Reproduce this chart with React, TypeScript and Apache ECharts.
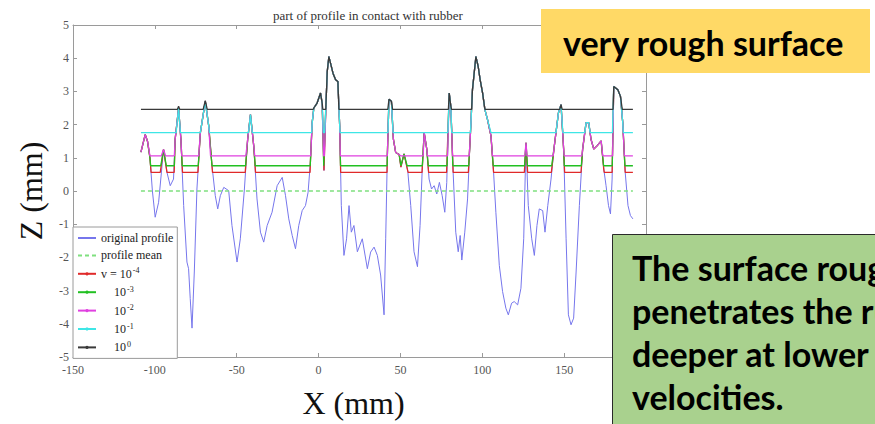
import React, { useEffect, useRef } from 'react';
import * as echarts from 'echarts';

type P = [number, number];

const titleText = 'part of profile in contact with rubber';
const xLabelText = 'X (mm)';
const yLabelText = 'Z (mm)';
const seriesNames = ['original profile', 'profile mean', 'v = 10^-4', '10^-3', '10^-2', '10^-1', '10^0'];
const seriesColors = ['#7676ec', '#7fe07f', '#e02a2a', '#22c022', '#e040e0', '#3ee6e6', '#3a3a3a'];
const yellowNote = 'very rough surface';
const greenNote = ['The surface roughness', 'penetrates the rubber', 'deeper at lower', 'velocities.'];

const profile: P[] = [
  [-108.5, 1.17], [-105.9, 1.7], [-104.5, 1.5], [-103, 1.0], [-101.5, 0.0], [-99.8, -0.79], [-97.7, -0.34],
  [-94.7, 1.25], [-92.6, 0.56], [-90.6, 0.16], [-88.6, 0.36], [-87.6, 1.56], [-85.5, 2.5], [-84.1, 1.56],
  [-82.4, -0.44], [-80.4, -2.14], [-79.4, -2.34], [-78.4, -3.24], [-77.3, -4.13], [-75.9, -2.44], [-74.3, 0.06],
  [-72.2, 1.76], [-69.2, 2.7], [-67.1, 1.96], [-65.1, 0.76], [-63.1, -0.14], [-61.6, -0.54], [-60, -0.14],
  [-57.9, 0.11], [-54.9, 0.01], [-52.9, -1.04], [-49.8, -2.14], [-47.8, -1.44], [-45.3, 0.06], [-43.3, 1.56],
  [-41.6, 2.3], [-39.6, 1.36], [-37.6, -0.24], [-35.5, -1.24], [-33.5, -1.54], [-31.4, -1.04], [-28.4, -0.64],
  [-25.3, 0.16], [-22.2, 0.41], [-20.2, -0.14], [-18.2, -0.84], [-16.1, -1.34], [-14.1, -1.74], [-12.1, -1.04],
  [-10, -0.59], [-8, -0.44], [-6.4, -0.04], [-5, 0.86], [-3.9, 2.06], [-2.9, 2.5], [-0.9, 2.65], [1.2, 2.95],
  [2.2, 2.65], [3.3, 0.62], [4.5, 2.6], [5.3, 3.6], [6.3, 4.05], [7.3, 3.85], [8.8, 3.55], [10.4, 3.35],
  [11.8, 3.3], [12.9, 1.96], [13.9, -0.44], [15.5, -1.94], [17.1, -1.44], [18.6, -0.44], [20, -1.24],
  [21.6, -1.04], [23.7, -1.83], [26.7, -1.44], [29.8, -2.34], [31.8, -1.84], [33.9, -1.69], [35.9, -1.94],
  [37.9, -2.53], [40, -3.73], [41, -1.44], [42, 1.06], [43, 2.76], [44.5, 2.7], [45.7, 1.56], [47.1, 1.16],
  [49.2, 1.1], [50.3, 0.72], [52.2, 1.12], [54.5, 0.6], [56.3, -0.44], [58.3, -1.83], [60.4, -2.28], [62, -1.04],
  [63.4, 0.76], [64.5, 1.76], [66.1, 1.26], [67.5, 0.36], [69, 0.06], [70.6, 0.16], [72.2, -0.09], [73.8, 0.26],
  [75.5, -0.14], [77.1, -0.64], [78.3, 0.26], [79.8, 2.95], [80.8, 2.55], [82.2, 0.56], [83.8, -1.24],
  [85.3, -1.83], [86.5, -1.34], [87.5, -2.08], [89.3, -1.24], [91, -0.24], [92.6, 1.56], [94, 3.05], [96.1, 4.05],
  [97.5, 3.75], [98.7, 3.35], [100.2, 2.95], [101.6, 2.45], [103.2, 2.15], [105.3, 1.66], [106.9, 0.56],
  [108.3, -0.64], [110.4, -2.24], [112.4, -3.03], [114.4, -3.53], [115.9, -3.73], [117.9, -3.38], [119.5, -3.33],
  [121.6, -3.43], [123.6, -2.93], [125.3, -1.44], [126.7, 1.45], [128.1, -0.44], [130.2, -1.44], [131.8, -1.94],
  [133.4, -1.04], [134.8, -0.54], [136.9, -0.59], [138.3, -1.24], [140, -0.44], [142, 0.36], [144, 1.36],
  [146.5, 2.35], [148.1, 2.6], [149.7, 1.26], [151.2, -1.44], [152.6, -3.73], [154.2, -4.03], [155.8, -3.83],
  [157.3, -2.44], [159.3, -0.44], [161.3, 1.26], [163.4, 2.06], [165, 2.06], [166.4, 1.56], [168.1, 1.26],
  [170.1, 1.36], [172.6, 1.51], [174.2, 0.66], [175.6, 0.16], [177.1, -0.44], [178.3, -0.69], [179.3, 0.36],
  [180.3, 3.15], [182.8, 3.05], [184.4, 2.85], [185.8, 2.06], [187.3, 0.56], [189, -0.44], [190.5, -0.74],
  [192, -0.84],
];

const profileMean: P[] = [[-108.5, 0], [192, 0]];

const rubberV4: P[] = [
  [-108.5, 1.17], [-105.9, 1.7], [-104.5, 1.5], [-103, 1.0], [-102.3, 0.56], [-96.7, 0.56], [-94.7, 1.25],
  [-92.6, 0.56], [-88.2, 0.56], [-87.6, 1.56], [-85.5, 2.5], [-84.1, 1.56], [-83.1, 0.56], [-73.7, 0.56],
  [-72.2, 1.76], [-69.2, 2.7], [-67.1, 1.96], [-65.1, 0.76], [-64.8, 0.56], [-44.8, 0.56], [-43.3, 1.56],
  [-41.6, 2.3], [-39.6, 1.36], [-38.5, 0.56], [-5.2, 0.56], [-5, 0.86], [-3.9, 2.06], [-2.9, 2.5], [-0.9, 2.65],
  [1.2, 2.95], [2.2, 2.65], [3.3, 0.62], [4.5, 2.6], [5.3, 3.6], [6.3, 4.05], [7.3, 3.85], [8.8, 3.55],
  [10.4, 3.35], [11.8, 3.3], [12.9, 1.96], [13.5, 0.56], [41.8, 0.56], [42, 1.06], [43, 2.76], [44.5, 2.7],
  [45.7, 1.56], [47.1, 1.16], [49.2, 1.1], [50.3, 0.72], [52.2, 1.12], [54.5, 0.6], [54.7, 0.56], [63.2, 0.56],
  [64.5, 1.76], [66.1, 1.26], [67.2, 0.56], [78.2, 0.56], [79.8, 2.95], [80.8, 2.55], [82.2, 0.56], [91.5, 0.56],
  [92.6, 1.56], [94, 3.05], [96.1, 4.05], [97.5, 3.75], [98.7, 3.35], [100.2, 2.95], [101.6, 2.45], [103.2, 2.15],
  [105.3, 1.66], [106.9, 0.56], [125.7, 0.56], [126.7, 1.45], [127.7, 0.56], [142.2, 0.56], [144, 1.36],
  [146.5, 2.35], [148.1, 2.6], [149.7, 1.26], [150.3, 0.56], [160.3, 0.56], [161.3, 1.26], [163.4, 2.06],
  [165, 2.06], [166.4, 1.56], [168.1, 1.26], [170.1, 1.36], [172.6, 1.51], [174.2, 0.66], [174.5, 0.56],
  [179.3, 0.56], [180.3, 3.15], [182.8, 3.05], [184.4, 2.85], [185.8, 2.06], [187.3, 0.56], [192, 0.56],
];

const rubberV3: P[] = [
  [-108.5, 1.17], [-105.9, 1.7], [-104.5, 1.5], [-103, 1.0], [-102.6, 0.76], [-96.4, 0.76], [-94.7, 1.25],
  [-93, 0.76], [-88.1, 0.76], [-87.6, 1.56], [-85.5, 2.5], [-84.1, 1.56], [-83.3, 0.76], [-73.5, 0.76],
  [-72.2, 1.76], [-69.2, 2.7], [-67.1, 1.96], [-65.1, 0.76], [-44.6, 0.76], [-43.3, 1.56], [-41.6, 2.3],
  [-39.6, 1.36], [-38.7, 0.76], [-5.1, 0.76], [-5, 0.86], [-3.9, 2.06], [-2.9, 2.5], [-0.9, 2.65], [1.2, 2.95],
  [2.2, 2.65], [3.15, 0.76], [3.45, 0.76], [4.5, 2.6], [5.3, 3.6], [6.3, 4.05], [7.3, 3.85], [8.8, 3.55],
  [10.4, 3.35], [11.8, 3.3], [12.9, 1.96], [13.4, 0.76], [41.9, 0.76], [42, 1.06], [43, 2.76], [44.5, 2.7],
  [45.7, 1.56], [47.1, 1.16], [49.2, 1.1], [50.3, 0.76], [52.2, 1.12], [54.1, 0.76], [63.4, 0.76], [64.5, 1.76],
  [66.1, 1.26], [67, 0.76], [78.5, 0.76], [79.8, 2.95], [80.8, 2.55], [82, 0.76], [91.7, 0.76], [92.6, 1.56],
  [94, 3.05], [96.1, 4.05], [97.5, 3.75], [98.7, 3.35], [100.2, 2.95], [101.6, 2.45], [103.2, 2.15], [105.3, 1.66],
  [106.7, 0.76], [125.8, 0.76], [126.7, 1.45], [127.6, 0.76], [142.4, 0.76], [144, 1.36], [146.5, 2.35],
  [148.1, 2.6], [149.7, 1.26], [150.1, 0.76], [160.5, 0.76], [161.3, 1.26], [163.4, 2.06], [165, 2.06],
  [166.4, 1.56], [168.1, 1.26], [170.1, 1.36], [172.6, 1.51], [174.1, 0.76], [179.4, 0.76], [180.3, 3.15],
  [182.8, 3.05], [184.4, 2.85], [185.8, 2.06], [187.1, 0.76], [192, 0.76],
];

const rubberV2: P[] = [
  [-108.5, 1.17], [-105.9, 1.7], [-104.5, 1.5], [-103, 1.06], [-96, 1.06], [-94.7, 1.25], [-93.5, 1.06],
  [-88.1, 1.06], [-87.6, 1.56], [-85.5, 2.5], [-84.1, 1.56], [-83.6, 1.06], [-73.2, 1.06], [-72.2, 1.76],
  [-69.2, 2.7], [-67.1, 1.96], [-66, 1.06], [-44.4, 1.06], [-43.3, 1.56], [-41.6, 2.3], [-39.6, 1.36],
  [-39, 1.06], [-4.8, 1.06], [-3.9, 2.06], [-2.9, 2.5], [-0.9, 2.65], [1.2, 2.95], [2.2, 2.65], [3.05, 1.06],
  [3.55, 1.06], [4.5, 2.6], [5.3, 3.6], [6.3, 4.05], [7.3, 3.85], [8.8, 3.55], [10.4, 3.35], [11.8, 3.3],
  [12.9, 1.96], [13.3, 1.06], [42, 1.06], [43, 2.76], [44.5, 2.7], [45.7, 1.56], [47.1, 1.16], [49.2, 1.1],
  [50, 1.06], [63.9, 1.06], [64.5, 1.76], [66.1, 1.26], [66.5, 1.06], [78.8, 1.06], [79.8, 2.95], [80.8, 2.55],
  [81.8, 1.06], [92, 1.06], [92.6, 1.56], [94, 3.05], [96.1, 4.05], [97.5, 3.75], [98.7, 3.35], [100.2, 2.95],
  [101.6, 2.45], [103.2, 2.15], [105.3, 1.66], [106.2, 1.06], [126, 1.06], [126.7, 1.45], [127.3, 1.06],
  [143.3, 1.06], [144, 1.36], [146.5, 2.35], [148.1, 2.6], [149.7, 1.26], [150, 1.06], [160.8, 1.06],
  [161.3, 1.26], [163.4, 2.06], [165, 2.06], [166.4, 1.56], [168.1, 1.26], [170.1, 1.36], [172.6, 1.51],
  [173.6, 1.06], [179.6, 1.06], [180.3, 3.15], [182.8, 3.05], [184.4, 2.85], [185.8, 2.06], [186.8, 1.06],
  [192, 1.06],
];

const rubberV1: P[] = [
  [-108.5, 1.76], [-87, 1.76], [-85.5, 2.5], [-84.4, 1.76], [-72.2, 1.76], [-69.2, 2.7], [-67.1, 1.96],
  [-66.6, 1.76], [-42.8, 1.76], [-41.6, 2.3], [-40.5, 1.76], [-4.2, 1.76], [-3.9, 2.06], [-2.9, 2.5],
  [-0.9, 2.65], [1.2, 2.95], [2.2, 2.65], [2.9, 1.76], [3.7, 1.76], [4.5, 2.6], [5.3, 3.6], [6.3, 4.05],
  [7.3, 3.85], [8.8, 3.55], [10.4, 3.35], [11.8, 3.3], [12.9, 1.96], [13.1, 1.76], [42.4, 1.76], [43, 2.76],
  [44.5, 2.7], [45.5, 1.76], [79, 1.76], [79.8, 2.95], [80.8, 2.55], [81.3, 1.76], [92.8, 1.76], [94, 3.05],
  [96.1, 4.05], [97.5, 3.75], [98.7, 3.35], [100.2, 2.95], [101.6, 2.45], [103.2, 2.15], [105.3, 1.76],
  [145, 1.76], [146.5, 2.35], [148.1, 2.6], [149.2, 1.76], [162.6, 1.76], [163.4, 2.06], [165, 2.06],
  [165.9, 1.76], [179.5, 1.76], [180.3, 3.15], [182.8, 3.05], [184.4, 2.85], [185.8, 2.06], [186.1, 1.76],
  [192, 1.76],
];

const rubberV0: P[] = [
  [-108.5, 2.46], [-86.2, 2.46], [-85.5, 2.55], [-84.8, 2.46], [-70.5, 2.46], [-69.2, 2.72], [-68, 2.46],
  [-3.3, 2.46], [-2.9, 2.5], [-0.9, 2.65], [1.2, 2.95], [2.2, 2.65], [2.6, 2.46], [4.4, 2.46], [4.5, 2.6],
  [5.3, 3.6], [6.3, 4.05], [7.3, 3.85], [8.8, 3.55], [10.4, 3.35], [11.8, 3.3], [12.4, 2.46], [42.3, 2.46],
  [43, 2.76], [44.5, 2.7], [45.2, 2.46], [79.3, 2.46], [79.8, 2.95], [80.8, 2.55], [81.2, 2.46], [93.5, 2.46],
  [94, 3.05], [96.1, 4.05], [97.5, 3.75], [98.7, 3.35], [100.2, 2.95], [101.6, 2.46], [147.3, 2.46],
  [148.1, 2.6], [148.8, 2.46], [179.9, 2.46], [180.3, 3.15], [182.8, 3.05], [184.4, 2.85], [185.5, 2.46],
  [192, 2.46],
];

const seriesData: P[][] = [profile, profileMean, rubberV4, rubberV3, rubberV2, rubberV1, rubberV0];

const legendRich: Record<string, string> = {
  'original profile': '{n|original profile}',
  'profile mean': '{n|profile mean}',
  'v = 10^-4': '{n|v = 10}{s|-4}',
  '10^-3': '{i|10}{s|-3}',
  '10^-2': '{i|10}{s|-2}',
  '10^-1': '{i|10}{s|-1}',
  '10^0': '{i|10}{s|0}',
};

const SERIF = 'Liberation Serif';
const AX = '#9a9a9a';

export default function App() {
  const ref = useRef<HTMLDivElement>(null);
  useEffect(() => {
    if (!ref.current) return;
    const chart = echarts.init(ref.current, undefined, { renderer: 'svg' });
    const axisCommon = {
      axisLine: { show: true, onZero: false, lineStyle: { color: AX, width: 1 } },
      axisTick: { show: true, inside: true, length: 4, lineStyle: { color: AX } },
      splitLine: { show: false },
    };
    const option: any = {
      animation: false,
      backgroundColor: '#fff',
      textStyle: { fontFamily: SERIF },
      title: {
        text: titleText,
        left: 268,
        top: 4,
        textStyle: { fontFamily: SERIF, fontSize: 13, fontWeight: 'normal', color: '#333' },
      },
      grid: { left: 73, top: 25, width: 573, height: 334, containLabel: false },
      xAxis: [
        {
          type: 'value', min: -150, max: 200, interval: 50, position: 'bottom',
          ...axisCommon,
          axisLabel: { fontFamily: SERIF, fontSize: 12, color: '#555', margin: 7, showMaxLabel: false },
          name: xLabelText, nameLocation: 'middle', nameGap: 30,
          nameTextStyle: { fontFamily: SERIF, fontSize: 32, color: '#111', padding: [0, 12, 0, 0] },
        },
        {
          type: 'value', min: -150, max: 200, interval: 50, position: 'top',
          ...axisCommon, axisLabel: { show: false },
        },
      ],
      yAxis: [
        {
          type: 'value', min: -5, max: 5, interval: 1, position: 'left',
          ...axisCommon,
          axisLabel: { fontFamily: SERIF, fontSize: 12, color: '#555', margin: 4 },
          name: yLabelText, nameLocation: 'middle', nameGap: 26, nameRotate: 90,
          nameTextStyle: { fontFamily: SERIF, fontSize: 32, color: '#111' },
        },
        {
          type: 'value', min: -5, max: 5, interval: 1, position: 'right',
          ...axisCommon, axisLabel: { show: false },
        },
      ],
      legend: {
        orient: 'vertical', left: 73, top: 227,
        padding: [5, 4, 5, 4], itemGap: 5.4, itemWidth: 18, itemHeight: 4,
        backgroundColor: '#fff', borderColor: '#9a9a9a', borderWidth: 1, borderRadius: 0,
        data: seriesNames.map((name, k) => (k < 2 ? { name, itemStyle: { opacity: 0 } } : { name })),
        formatter: (name: string) => legendRich[name] || name,
        textStyle: {
          fontFamily: SERIF, fontSize: 12, color: '#222',
          rich: {
            n: { fontFamily: SERIF, fontSize: 12, color: '#222', lineHeight: 14 },
            i: { fontFamily: SERIF, fontSize: 12, color: '#222', lineHeight: 14, padding: [0, 0, 0, 13] },
            s: { fontFamily: SERIF, fontSize: 8, color: '#222', lineHeight: 14, verticalAlign: 'top', padding: [0, 0, 0, 1] },
          },
        },
      },
      series: seriesNames.map((name, k) => ({
        name,
        type: 'line',
        data: seriesData[k],
        symbol: k < 2 ? 'none' : 'circle',
        symbolSize: 3,
        showSymbol: false,
        silent: true,
        lineStyle: {
          color: seriesColors[k],
          width: k === 0 ? 1 : 1.3,
          type: k === 1 ? [4, 3] : 'solid',
        },
        itemStyle: { color: seriesColors[k] },
        z: 2 + k,
      })),
      graphic: [
        { type: 'rect', z: 100, shape: { x: 541, y: 9, width: 329, height: 64 }, style: { fill: '#FFD966' } },
        {
          type: 'text', z: 101, x: 563, y: 42,
          style: { text: yellowNote, fill: '#000', fontFamily: 'Lato', fontWeight: 'bold', fontSize: 34, verticalAlign: 'middle' },
        },
        { type: 'rect', z: 100, shape: { x: 612.5, y: 234.5, width: 300, height: 220 }, style: { fill: '#A9D18E', stroke: '#2a2a2a', lineWidth: 1 } },
        ...greenNote.map((t, k) => ({
          type: 'text', z: 101, x: 632, y: 267 + k * 43,
          style: { text: t, fill: '#000', fontFamily: 'Lato', fontWeight: 'bold', fontSize: 34, verticalAlign: 'middle' },
        })),
      ],
    };
    chart.setOption(option);
    return () => chart.dispose();
  }, []);
  return <div ref={ref} style={{ position: 'fixed', left: 0, top: 0, width: 875, height: 424 }} />;
}
